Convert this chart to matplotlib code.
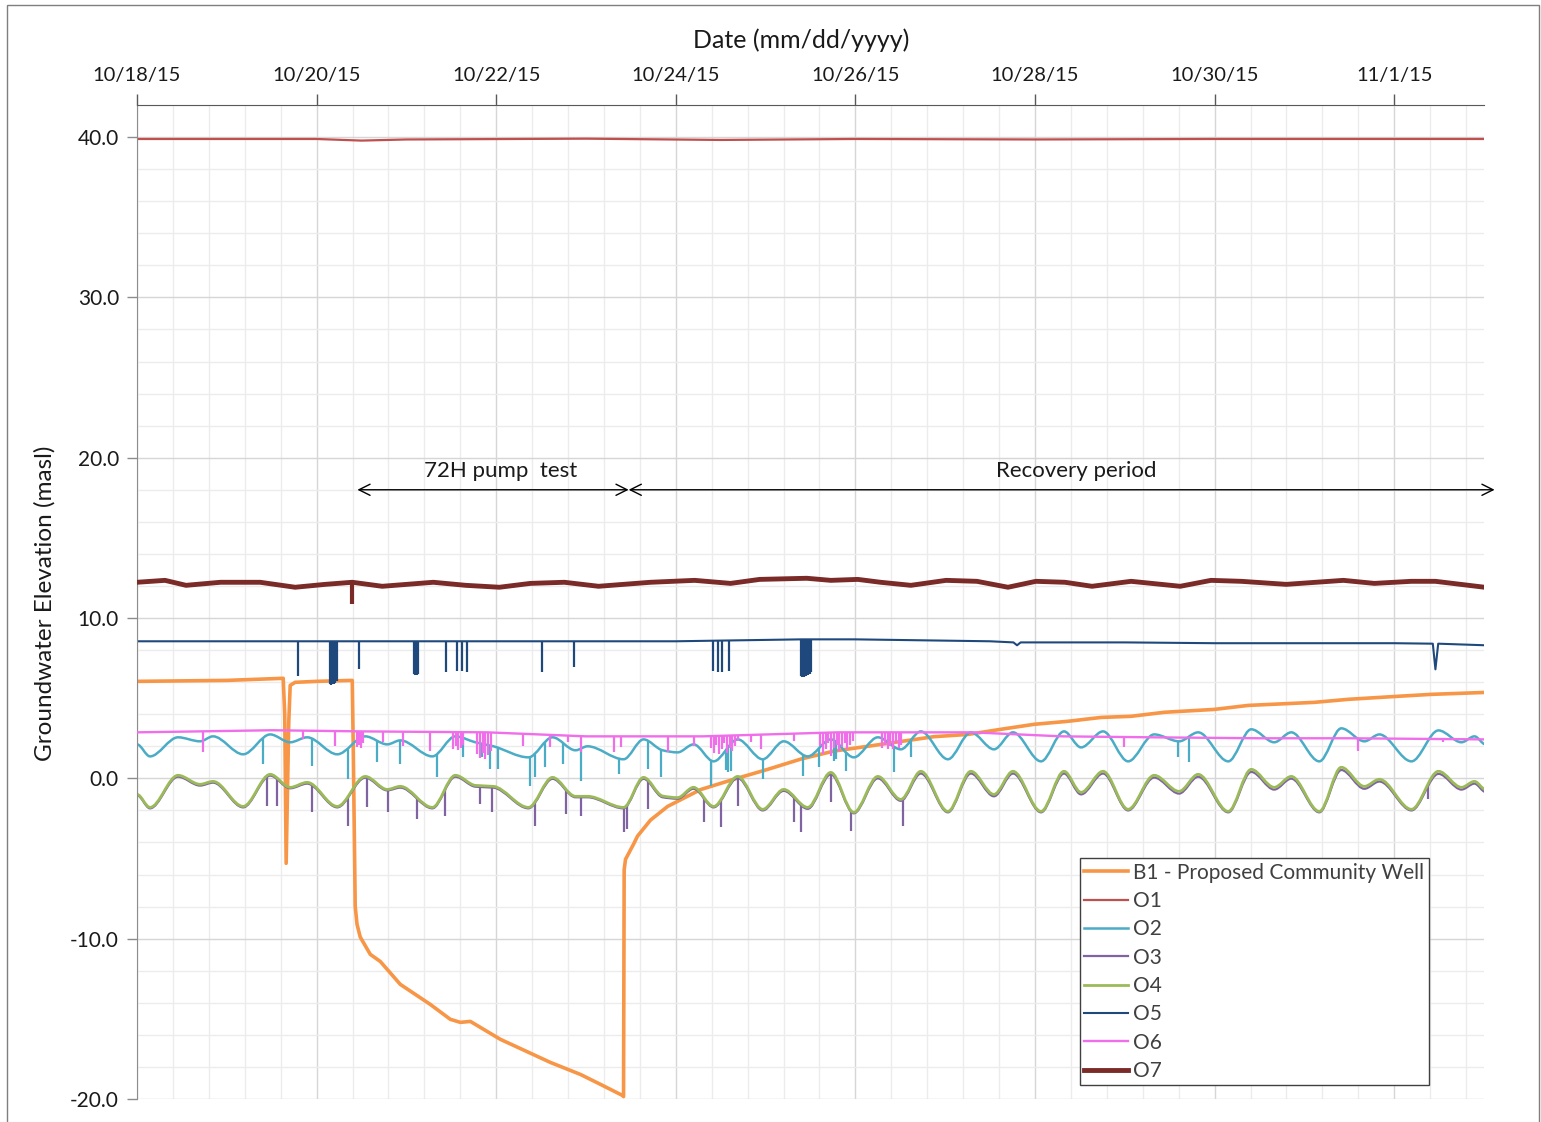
import numpy as np
import pandas as pd
import matplotlib
matplotlib.use('Agg')
import matplotlib.pyplot as plt
import matplotlib.dates as mdates
from matplotlib.path import Path
from matplotlib.patches import PathPatch, Rectangle
from matplotlib.lines import Line2D
from matplotlib.ticker import FixedLocator, FixedFormatter, MultipleLocator, FormatStrFormatter

plt.rcParams['font.family'] = ['Lato', 'DejaVu Sans']

# ---- logger data (days after 10/18/2015 00:00, elevation in masl) ----
START = pd.Timestamp('2015-10-18')

b1_days = [0.000, 1.000, 1.628, 1.645, 1.661, 1.690, 1.706, 1.761, 2.000, 2.397, 2.408, 2.430,
           2.450, 2.486, 2.598, 2.709, 2.932, 3.266, 3.489, 3.601, 3.712, 4.047, 4.604, 4.939, 5.162,
           5.407, 5.418, 5.425, 5.440, 5.530, 5.574, 5.719, 5.909, 6.276, 6.644, 7.023, 7.391,
           7.759, 8.138, 8.506, 8.874, 9.253, 9.621, 9.989, 10.368, 10.736, 11.070, 11.438,
           11.996, 12.375, 13.110, 13.490, 14.047, 14.415, 15.017]
b1_level = [6.05, 6.11, 6.24, 4.0, -5.30, 3.5, 5.80, 5.99, 6.05, 6.11, 2.0, -7.99,
            -9.10, -9.90, -10.98, -11.42, -12.85, -14.10, -15.03, -15.22, -15.16, -16.28, -17.72, -18.47, -19.09,
            -19.78, -19.85, -5.70, -5.05, -4.10, -3.60, -2.60, -1.75, -0.70, -0.06, 0.56, 1.20,
            1.70, 2.00, 2.30, 2.60, 2.74, 3.06, 3.37, 3.56, 3.80, 3.87, 4.12,
            4.30, 4.55, 4.74, 4.93, 5.12, 5.24, 5.36]

o1_days = [0.0, 2.0, 2.5, 3.0, 5.0, 6.5, 8.0, 10.0, 12.0, 15.017]
o1_level = [39.88, 39.88, 39.78, 39.85, 39.90, 39.82, 39.88, 39.85, 39.88, 39.88]

# turning points of the tidal signal shared by O2, O3 and O4
tide_days = [0.000, 0.145, 0.457, 0.702, 0.847, 1.182, 1.483, 1.706, 1.895, 2.230, 2.542, 2.787,
             2.932, 3.289, 3.545, 3.768, 3.969, 4.359, 4.627, 4.883, 5.017, 5.418, 5.641, 5.853,
             6.020, 6.198, 6.421, 6.689, 6.968, 7.202, 7.469, 7.726, 7.982, 8.250, 8.506, 8.729,
             9.030, 9.286, 9.543, 9.755, 10.067, 10.323, 10.513, 10.758, 11.037, 11.327, 11.605,
             11.817, 12.152, 12.408, 12.664, 12.854, 13.166, 13.411, 13.668, 13.835, 14.192,
             14.493, 14.749, 14.894, 15.017]
o2_level = [2.12, 1.37, 2.56, 2.31, 2.62, 1.50, 2.74, 2.25, 2.56, 1.50, 2.62, 2.12,
            2.37, 1.37, 2.62, 2.25, 2.00, 1.31, 2.56, 1.75, 2.00, 1.19, 2.43, 1.75,
            1.62, 2.12, 1.06, 2.43, 1.19, 2.31, 1.37, 2.43, 1.31, 2.56, 1.81, 2.93,
            1.19, 2.87, 1.81, 2.87, 1.06, 2.93, 1.93, 2.93, 1.06, 2.74, 2.31,
            2.87, 1.06, 3.06, 2.25, 2.87, 1.06, 3.12, 2.31, 2.74, 1.06,
            2.99, 2.25, 2.62, 2.12]
o3_level = [-1.05, -1.87, 0.10, -0.45, -0.27, -1.81, 0.17, -0.62, -0.33, -1.81, 0.04, -0.75,
            -0.58, -1.87, 0.10, -0.52, -0.58, -1.87, -0.03, -1.18, -1.18, -1.87, -0.03, -1.18,
            -1.27, -0.65, -1.81, 0.02, -2.00, -0.78, -1.90, 0.25, -2.18, 0.00, -1.40, 0.30,
            -2.12, 0.30, -1.12, 0.30, -2.12, 0.30, -1.00, 0.30, -2.00, 0.05, -0.95,
            0.10, -2.12, 0.40, -0.70, -0.02, -2.12, 0.52, -0.65, -0.20, -2.00,
            0.28, -0.70, -0.33, -0.85]
o4_level = [-1.00, -1.81, 0.19, -0.37, -0.19, -1.75, 0.25, -0.56, -0.25, -1.75, 0.12, -0.69,
            -0.50, -1.81, 0.19, -0.44, -0.50, -1.81, 0.06, -1.12, -1.12, -1.81, 0.06, -1.10,
            -1.20, -0.56, -1.75, 0.12, -1.93, -0.69, -1.81, 0.37, -2.12, 0.12, -1.31, 0.44,
            -2.06, 0.44, -1.00, 0.44, -2.06, 0.44, -0.87, 0.44, -1.93, 0.19, -0.81,
            0.25, -2.06, 0.56, -0.56, 0.12, -2.06, 0.69, -0.50, -0.06, -1.93,
            0.44, -0.56, -0.19, -0.69]

o5_days = [0.0, 2.0, 4.0, 6.0, 7.4, 8.0, 9.5, 9.76, 9.80, 9.84, 11.0, 12.0, 13.0, 14.0,
           14.43, 14.459, 14.49, 15.017]
o5_level = [8.55, 8.55, 8.55, 8.55, 8.67, 8.67, 8.55, 8.48, 8.30, 8.48, 8.48, 8.43, 8.43, 8.43,
            8.40, 6.80, 8.40, 8.30]

o6_days = [0.0, 1.5, 2.5, 3.9, 5.0, 6.3, 7.8, 9.3, 10.3, 11.3, 12.5, 13.5, 15.017]
o6_level = [2.87, 3.00, 2.93, 2.87, 2.62, 2.62, 2.87, 2.87, 2.62, 2.56, 2.50, 2.50, 2.43]

o7_days = [0.000, 0.312, 0.546, 0.930, 1.371, 1.761, 2.096, 2.397, 2.731, 3.300, 3.660, 4.036,
           4.380, 4.760, 5.139, 5.719, 6.210, 6.610, 6.934, 7.458, 7.726, 8.027, 8.280, 8.618,
           9.010, 9.353, 9.699, 10.010, 10.334, 10.635, 11.070, 11.617, 11.960, 12.297, 12.798,
           13.434, 13.779, 14.190, 14.459, 15.006]
o7_level = [12.23, 12.35, 12.04, 12.23, 12.23, 11.92, 12.10, 12.23, 11.98, 12.23, 12.04, 11.92,
            12.16, 12.23, 11.98, 12.23, 12.35, 12.16, 12.41, 12.48, 12.35, 12.41, 12.23, 12.04,
            12.35, 12.29, 11.92, 12.29, 12.23, 11.98, 12.29, 11.98, 12.35, 12.29, 12.10,
            12.35, 12.16, 12.29, 12.29, 11.92]

# short drops in the records (time, lowest reading)
o2_spike_days = [1.405, 1.951, 2.352, 2.676, 2.932, 3.344, 3.634, 3.846, 3.935, 4.025, 4.381,
                 4.437, 4.548, 4.749, 4.939, 5.362, 5.686, 5.831, 6.388, 6.560, 6.580, 6.610,
                 6.968, 7.414, 7.592, 7.759, 7.781, 7.893, 8.428, 8.618, 11.594, 11.717]
o2_spike_low = [0.87, 0.75, -0.06, 1.00, 0.87, 0.06, 1.31, 1.31, 0.56, 0.56, -0.50,
                0.06, 0.69, 0.87, -0.19, 0.25, 0.56, 0.06, -0.50, 0.50, 0.37, 0.44,
                -0.06, 0.12, 0.69, 1.06, 1.19, 0.44, 0.37, 1.31, 1.31, 1.00]

o3_spike_days = [1.449, 1.561, 1.951, 2.352, 2.564, 2.798, 3.122, 3.434, 3.824, 3.958, 4.437,
                 4.772, 4.939, 5.418, 5.452, 5.686, 6.310, 6.499, 6.689, 7.313, 7.391, 7.726,
                 7.949, 8.528, 14.380]
o3_spike_low = [-1.75, -1.75, -2.12, -2.99, -1.81, -2.12, -2.56, -2.37, -1.62, -2.12, -2.99,
                -2.25, -2.37, -3.37, -3.18, -1.93, -2.74, -3.06, -1.75, -2.74, -3.37, -1.50,
                -3.31, -2.99, -1.30]

o5_spike_days = [1.795, 2.150, 2.165, 2.180, 2.195, 2.210, 2.225, 2.475, 3.088, 3.100, 3.111,
                 3.122, 3.133, 3.445, 3.567, 3.623, 3.679, 4.515, 4.861, 6.410, 6.470, 6.520,
                 6.590, 7.390, 7.410, 7.430, 7.450, 7.470, 7.490, 7.510]
o5_spike_low = [6.36, 5.86, 5.80, 5.86, 5.86, 5.92, 6.05, 6.80, 6.49, 6.42, 6.42,
                6.42, 6.49, 6.61, 6.67, 6.67, 6.61, 6.61, 6.92, 6.67, 6.61, 6.61,
                6.67, 6.36, 6.30, 6.30, 6.36, 6.42, 6.49, 6.61]

o6_spike_days = [0.736, 1.851, 2.207, 2.45, 2.47, 2.49, 2.52, 2.742, 2.965, 3.266,
                 3.52, 3.55, 3.58, 3.61, 3.63, 3.79, 3.82, 3.85, 3.88, 3.91, 3.94,
                 4.303, 4.604, 4.805, 4.939, 5.307, 5.385, 5.909, 6.198,
                 6.39, 6.42, 6.45, 6.48, 6.51, 6.54, 6.57, 6.60, 6.63, 6.66, 6.69,
                 6.834, 6.945, 7.313,
                 7.61, 7.64, 7.67, 7.70, 7.73, 7.76, 7.79, 7.82, 7.85, 7.88, 7.91, 7.94, 7.97,
                 8.30, 8.33, 8.36, 8.39, 8.42, 8.45, 8.48, 8.51, 10.99, 13.601, 14.548]
o6_spike_low = [1.62, 2.43, 2.00, 1.93, 2.10, 1.90, 2.20, 2.25, 2.00, 1.68,
                1.80, 2.00, 1.75, 1.90, 2.10, 1.50, 1.30, 1.60, 1.20, 1.45, 1.70,
                2.00, 1.93, 2.25, 1.62, 1.62, 1.93, 1.62, 2.00,
                1.90, 1.60, 2.10, 1.50, 1.80, 2.20, 1.60, 1.90, 1.70, 2.00, 2.30,
                2.25, 1.81, 2.31,
                2.00, 1.50, 1.80, 2.20, 1.40, 1.90, 2.10, 1.70, 1.93, 2.20, 1.80, 2.10, 2.30,
                1.90, 2.10, 1.80, 2.00, 1.85, 2.20, 1.90, 2.10, 1.98, 1.68, 2.25]

o7_spike_days = [2.397]
o7_spike_low = [10.86]

series_names = ['B1 - Proposed Community Well', 'O1', 'O2', 'O3', 'O4', 'O5', 'O6', 'O7']
series_colors = ['#F79646', '#C0504D', '#4BACC6', '#8064A2', '#9BBB59', '#1F497D', '#F06EEA', '#7A2A27']
series_widths = [2.6, 1.6, 1.8, 1.6, 2.0, 1.5, 1.7, 3.5]

tick_dates = pd.date_range('2015-10-18', periods=8, freq='2D')
tick_labels = [f'{d.month}/{d.day}/{d:%y}' for d in tick_dates]

pump_start = START + pd.Timedelta(hours=58.9)
pump_end = pump_start + pd.Timedelta(hours=72.5)
recovery_end = pd.Timestamp('2015-11-02 02:50')

base = mdates.date2num(START)


def pchip_slopes(x, y):
    h = np.diff(x)
    d = np.diff(y) / h
    m = np.zeros_like(y)
    for k in range(1, len(x) - 1):
        if d[k - 1] * d[k] > 0:
            w1 = 2 * h[k] + h[k - 1]
            w2 = h[k] + 2 * h[k - 1]
            m[k] = (w1 + w2) / (w1 / d[k - 1] + w2 / d[k])
    return m


def smooth_line(ax, days, level, color, lw, z):
    # smoothed line (like Excel's "smoothed line" option) through the points
    x = base + np.asarray(days, float)
    y = np.asarray(level, float)
    m = pchip_slopes(x, y)
    verts = [(x[0], y[0])]
    codes = [Path.MOVETO]
    for k in range(len(x) - 1):
        h = x[k + 1] - x[k]
        verts += [(x[k] + h / 3, y[k] + m[k] * h / 3),
                  (x[k + 1] - h / 3, y[k + 1] - m[k + 1] * h / 3),
                  (x[k + 1], y[k + 1])]
        codes += [Path.CURVE4] * 3
    ax.add_patch(PathPatch(Path(verts, codes), fill=False, edgecolor=color, lw=lw,
                           joinstyle='round', capstyle='round', zorder=z))

    def at(q):
        q = np.asarray(q, float)
        k = np.clip(np.searchsorted(x, q) - 1, 0, len(x) - 2)
        h = x[k + 1] - x[k]
        t = (q - x[k]) / h
        return ((2 * t**3 - 3 * t**2 + 1) * y[k] + (t**3 - 2 * t**2 + t) * h * m[k]
                + (-2 * t**3 + 3 * t**2) * y[k + 1] + (t**3 - t**2) * h * m[k + 1])
    return at


def plain_line(ax, days, level, color, lw, z):
    x = base + np.asarray(days, float)
    ax.plot(x, level, color=color, lw=lw, zorder=z, solid_joinstyle='round')
    return lambda q: np.interp(q, x, level)


def spikes(ax, at, days, low, color, lw, z):
    x = base + np.asarray(days, float)
    ax.vlines(x, low, at(x), colors=color, lw=lw, zorder=z)


fig = plt.figure(figsize=(15.41, 11.22), dpi=100)
ax = fig.add_axes([137 / 1541, 1 - 1099 / 1122, (1484 - 137) / 1541, (1099 - 105) / 1122])

c = series_colors
w = series_widths
plain_line(ax, b1_days, b1_level, c[0], w[0], 2.0)
plain_line(ax, o1_days, o1_level, c[1], w[1], 2.1)
o2_at = smooth_line(ax, tide_days, o2_level, c[2], w[2], 2.2)
spikes(ax, o2_at, o2_spike_days, o2_spike_low, c[2], 1.6, 2.2)
o3_at = smooth_line(ax, tide_days, o3_level, c[3], w[3], 2.3)
spikes(ax, o3_at, o3_spike_days, o3_spike_low, c[3], 1.6, 2.3)
smooth_line(ax, tide_days, o4_level, c[4], w[4], 2.4)
o5_at = plain_line(ax, o5_days, o5_level, c[5], w[5], 2.5)
spikes(ax, o5_at, o5_spike_days, o5_spike_low, c[5], 1.6, 2.5)
o6_at = plain_line(ax, o6_days, o6_level, c[6], w[6], 2.6)
spikes(ax, o6_at, o6_spike_days, o6_spike_low, c[6], 1.6, 2.6)
o7_at = plain_line(ax, o7_days, o7_level, c[7], w[7], 2.7)
spikes(ax, o7_at, o7_spike_days, o7_spike_low, c[7], 3.0, 2.7)

# axes
ax.set_xlim(base, base + 15.0)
ax.set_ylim(-20, 42)
ax.xaxis.tick_top()
ax.xaxis.set_major_locator(FixedLocator(mdates.date2num(tick_dates)))
ax.xaxis.set_major_formatter(FixedFormatter(tick_labels))
ax.xaxis.set_minor_locator(FixedLocator(base + np.arange(0, 15.01, 0.4)))
ax.yaxis.set_minor_locator(MultipleLocator(2))
ax.set_yticks([-20, -10, 0, 10, 20, 30, 40])
ax.yaxis.set_major_formatter(FormatStrFormatter('%.1f'))

ax.set_axisbelow(True)
ax.grid(which='major', color='#d6d6d6', lw=1.0)
ax.grid(which='minor', color='#ececec', lw=1.0)
ax.tick_params(axis='x', which='major', direction='out', length=8, width=1, color='#595959',
               pad=7, labelsize=14.5, labelcolor='#1a1a1a')
ax.tick_params(axis='y', which='major', direction='out', length=7, width=1, color='#8c8c8c',
               pad=6, labelsize=15, labelcolor='#1a1a1a')
ax.tick_params(which='minor', length=0)
ax.spines['top'].set_color('#595959')
ax.spines['left'].set_color('#8c8c8c')
ax.spines['right'].set_visible(False)
ax.spines['bottom'].set_visible(False)

# test periods
arrow_y = 18.0
for a, b in [(pump_start, pump_end), (pump_end, recovery_end)]:
    ax.annotate('', xy=(mdates.date2num(b), arrow_y), xytext=(mdates.date2num(a), arrow_y),
                arrowprops=dict(arrowstyle='<->', color='black', lw=1.0, shrinkA=0, shrinkB=0,
                                mutation_scale=20),
                annotation_clip=False, zorder=5)
ax.text(base + 4.05, 19.2, '72H pump  test', ha='center', va='center', fontsize=16, color='#1a1a1a')
ax.text(base + 10.46, 19.2, 'Recovery period', ha='center', va='center', fontsize=16, color='#1a1a1a')

handles = [Line2D([], [], color=cc, lw=ww) for cc, ww in zip(series_colors, series_widths)]
leg = ax.legend(handles, series_names, loc='upper left', bbox_to_anchor=(0.700, 0.2425),
                fontsize=15, labelcolor='#404040', frameon=True, fancybox=False,
                edgecolor='#404040', framealpha=1, borderpad=0.22, labelspacing=0.40,
                handlelength=2.1, handletextpad=0.25, borderaxespad=0)
leg.get_frame().set_linewidth(1.0)
leg.set_zorder(10)

fig.text(801 / 1541, 1 - 40 / 1122, 'Date (mm/dd/yyyy)', ha='center', va='center', fontsize=18,
         color='#1a1a1a')
fig.text(45 / 1541, 1 - 603 / 1122, 'Groundwater Elevation (masl)', ha='center', va='center',
         rotation=90, fontsize=17.5, color='#1a1a1a')

# chart area border
fig.add_artist(Rectangle((7 / 1541, -0.01), 1532 / 1541, 1.01 - 5 / 1122, transform=fig.transFigure,
                         fill=False, edgecolor='#7f7f7f', lw=1.0))

fig.savefig('out.png', dpi=100)
